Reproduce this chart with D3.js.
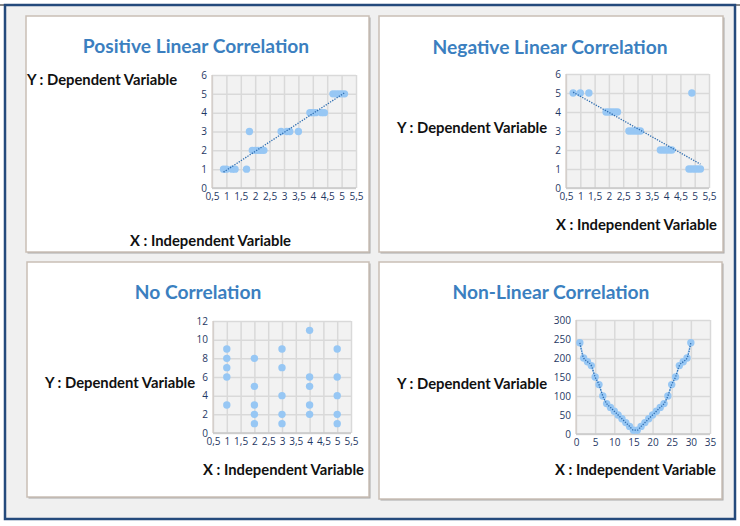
<!DOCTYPE html>
<html><head><meta charset="utf-8">
<script src="https://cdn.jsdelivr.net/npm/d3@7"></script>
<style>body{margin:0;background:#fff}svg{display:block}</style>
</head><body><svg id="c" width="740" height="526"></svg>
<script>
// ---- DATA ----
const titles = ["Positive Linear Correlation","Negative Linear Correlation","No Correlation","Non-Linear Correlation"];
const yLabel = "Y : Dependent Variable";
const xLabel = "X : Independent Variable";

const posX = [0.9,1.0,1.2,1.3,1.7,1.8,1.9,2.0,2.1,2.2,2.3,2.9,3.1,3.2,3.5,3.9,4.0,4.1,4.3,4.4,4.7,4.8,4.9,5.0,5.1];
const posY = [1,1,1,1,1,3,2,2,2,2,2,3,3,3,3,4,4,4,4,4,5,5,5,5,5];

const negX = [0.75,1.0,1.3,4.9,1.9,2.0,2.1,2.2,2.3,2.7,2.8,2.9,3.0,3.1,3.8,3.9,4.0,4.1,4.2,4.8,4.9,5.0,5.1,5.2];
const negY = [5,5,5,5,4,4,4,4,4,3,3,3,3,3,2,2,2,2,2,1,1,1,1,1];

const noX = [1,1,1,1,1,2,2,2,2,2,3,3,3,3,3,4,4,4,4,4,5,5,5,5,5];
const noY = [3,6,7,8,9,1,2,3,5,8,1,2,4,7,9,2,3,5,6,11,1,2,4,6,9];

const nlX = [1,2,3,4,5,6,7,8,9,10,11,12,13,14,15,16,17,18,19,20,21,22,23,24,25,26,27,28,29,30];
const nlY = [240,200,190,180,150,130,100,80,70,60,50,40,30,20,10,10,20,30,40,50,60,70,80,100,130,150,180,190,200,240];

const xTicksLin = [0.5,1,1.5,2,2.5,3,3.5,4,4.5,5,5.5];
const yTicksLin = [0,1,2,3,4,5,6];
const yTicksNo = [0,2,4,6,8,10,12];
const xTicksNl = [0,5,10,15,20,25,30,35];
const yTicksNl = [0,50,100,150,200,250,300];

// ---- LAYOUT ----
const svg = d3.select("#c");
svg.append("line").attr("x1",0).attr("x2",740).attr("y1",5).attr("y2",5).attr("stroke","#111").attr("stroke-width",1);
svg.append("rect").attr("x",5).attr("y",5).attr("width",730).attr("height",514)
  .attr("fill","#f0f0f0").attr("stroke","#244a7c").attr("stroke-width",2.5);

const panels = [
  {box:[26,16,343,236], title:[196,45], yl:[27,79,"start"], xl:[291,240,"end"],
   plot:[212,75,356,188], xd:[0.5,5.5], yd:[0,6], xt:xTicksLin, yt:yTicksLin, xs:posX, ys:posY, kind:"reg"},
  {box:[379,16,344,236], title:[550,46], yl:[397,127,"start"], xl:[717,224,"end"],
   plot:[566,74,709,188], xd:[0.5,5.5], yd:[0,6], xt:xTicksLin, yt:yTicksLin, xs:negX, ys:negY, kind:"reg"},
  {box:[27,262,342,235], title:[198,291], yl:[45,382,"start"], xl:[364,469,"end"],
   plot:[213,321,351,433], xd:[0.5,5.5], yd:[0,12], xt:xTicksLin, yt:yTicksNo, xs:noX, ys:noY, kind:"none"},
  {box:[379,262,343,237], title:[551,291], yl:[397,383,"start"], xl:[716,469,"end"],
   plot:[576,320,710,434], xd:[0,35], yd:[0,300], xt:xTicksNl, yt:yTicksNl, xs:nlX, ys:nlY, kind:"curve"}
];

const fmt = d => String(d).replace(".", ",");
const FONT = "Lato, 'Open Sans', sans-serif";

panels.forEach((p,i) => {
  const g = svg.append("g");
  const [bx,by,bw,bh] = p.box;
  g.append("rect").attr("x",bx+1.5).attr("y",by+1.5).attr("width",bw).attr("height",bh).attr("fill","#a8a8a8");
  g.append("rect").attr("x",bx).attr("y",by).attr("width",bw).attr("height",bh)
    .attr("fill","#fff").attr("stroke","#c9beb5").attr("stroke-width",1.5);

  g.append("text").attr("x",p.title[0]).attr("y",p.title[1]).attr("text-anchor","middle")
    .attr("dominant-baseline","central").attr("font-family",FONT)
    .attr("font-weight","bold").attr("font-size",19.2).attr("fill","#3b7fc0").text(titles[i]);
  g.append("text").attr("x",p.yl[0]).attr("y",p.yl[1]).attr("text-anchor",p.yl[2])
    .attr("dominant-baseline","central").attr("font-family",FONT)
    .attr("font-weight","bold").attr("font-size",14.8).attr("fill","#111").text(yLabel);
  g.append("text").attr("x",p.xl[0]).attr("y",p.xl[1]).attr("text-anchor",p.xl[2])
    .attr("dominant-baseline","central").attr("font-family",FONT)
    .attr("font-weight","bold").attr("font-size",14.8).attr("fill","#111").text(xLabel);

  const [l,t,r,b] = p.plot;
  const x = d3.scaleLinear().domain(p.xd).range([l,r]);
  const y = d3.scaleLinear().domain(p.yd).range([b,t]);

  g.append("rect").attr("x",l).attr("y",t).attr("width",r-l).attr("height",b-t).attr("fill","#f2f2f2");

  const xAxis = g.append("g").attr("transform",`translate(0,${b})`)
    .call(d3.axisBottom(x).tickValues(p.xt).tickFormat(fmt).tickSize(-(b-t)).tickPadding(5));
  const yAxis = g.append("g").attr("transform",`translate(${l},0)`)
    .call(d3.axisLeft(y).tickValues(p.yt).tickFormat(fmt).tickSize(-(r-l)).tickPadding(5));
  [xAxis,yAxis].forEach(a => {
    a.select(".domain").remove();
    a.selectAll(".tick line").attr("stroke","#d9d9d9").attr("stroke-width",1.5);
    a.selectAll(".tick text").attr("fill","#1f3864").attr("font-size",10)
      .attr("font-family","'Open Sans', 'DejaVu Sans', sans-serif");
  });
  g.append("line").attr("x1",l).attr("x2",r).attr("y1",b).attr("y2",b).attr("stroke","#c8c8c8").attr("stroke-width",1.5);
  g.append("line").attr("x1",l).attr("x2",l).attr("y1",t).attr("y2",b).attr("stroke","#d0c6bf").attr("stroke-width",1);

  const pts = p.xs.map((v,k) => [v, p.ys[k]]);

  if (p.kind === "curve") {
    const sorted = pts.slice().sort((a,b)=>a[0]-b[0]);
    g.append("path").datum(sorted).attr("fill","none").attr("stroke","#a9d1f7").attr("stroke-width",1.5)
      .attr("d", d3.line().x(d=>x(d[0])).y(d=>y(d[1])));
  }

  g.selectAll("circle.pt").data(pts).join("circle").attr("class","pt")
    .attr("cx",d=>x(d[0])).attr("cy",d=>y(d[1])).attr("r",3.7).attr("fill","#97c7f4");

  if (p.kind === "reg") {
    const mx = d3.mean(pts,d=>d[0]), my = d3.mean(pts,d=>d[1]);
    const sxy = d3.sum(pts,d=>(d[0]-mx)*(d[1]-my)), sxx = d3.sum(pts,d=>(d[0]-mx)**2);
    const m = sxy/sxx, c = my - m*mx;
    const x0 = d3.min(pts,d=>d[0]), x1 = d3.max(pts,d=>d[0]);
    g.append("line").attr("x1",x(x0)).attr("y1",y(m*x0+c)).attr("x2",x(x1)).attr("y2",y(m*x1+c))
      .attr("stroke","#2e6db0").attr("stroke-width",1.3).attr("stroke-dasharray","1.3,1.3");
  } else if (p.kind === "curve") {
    const sorted = pts.slice().sort((a,b)=>a[0]-b[0]);
    g.append("path").datum(sorted).attr("fill","none").attr("stroke","#2e6db0").attr("stroke-width",1.3)
      .attr("stroke-dasharray","1.3,1.3").attr("d", d3.line().curve(d3.curveMonotoneX).x(d=>x(d[0])).y(d=>y(d[1])));
  }
});
</script></body></html>
